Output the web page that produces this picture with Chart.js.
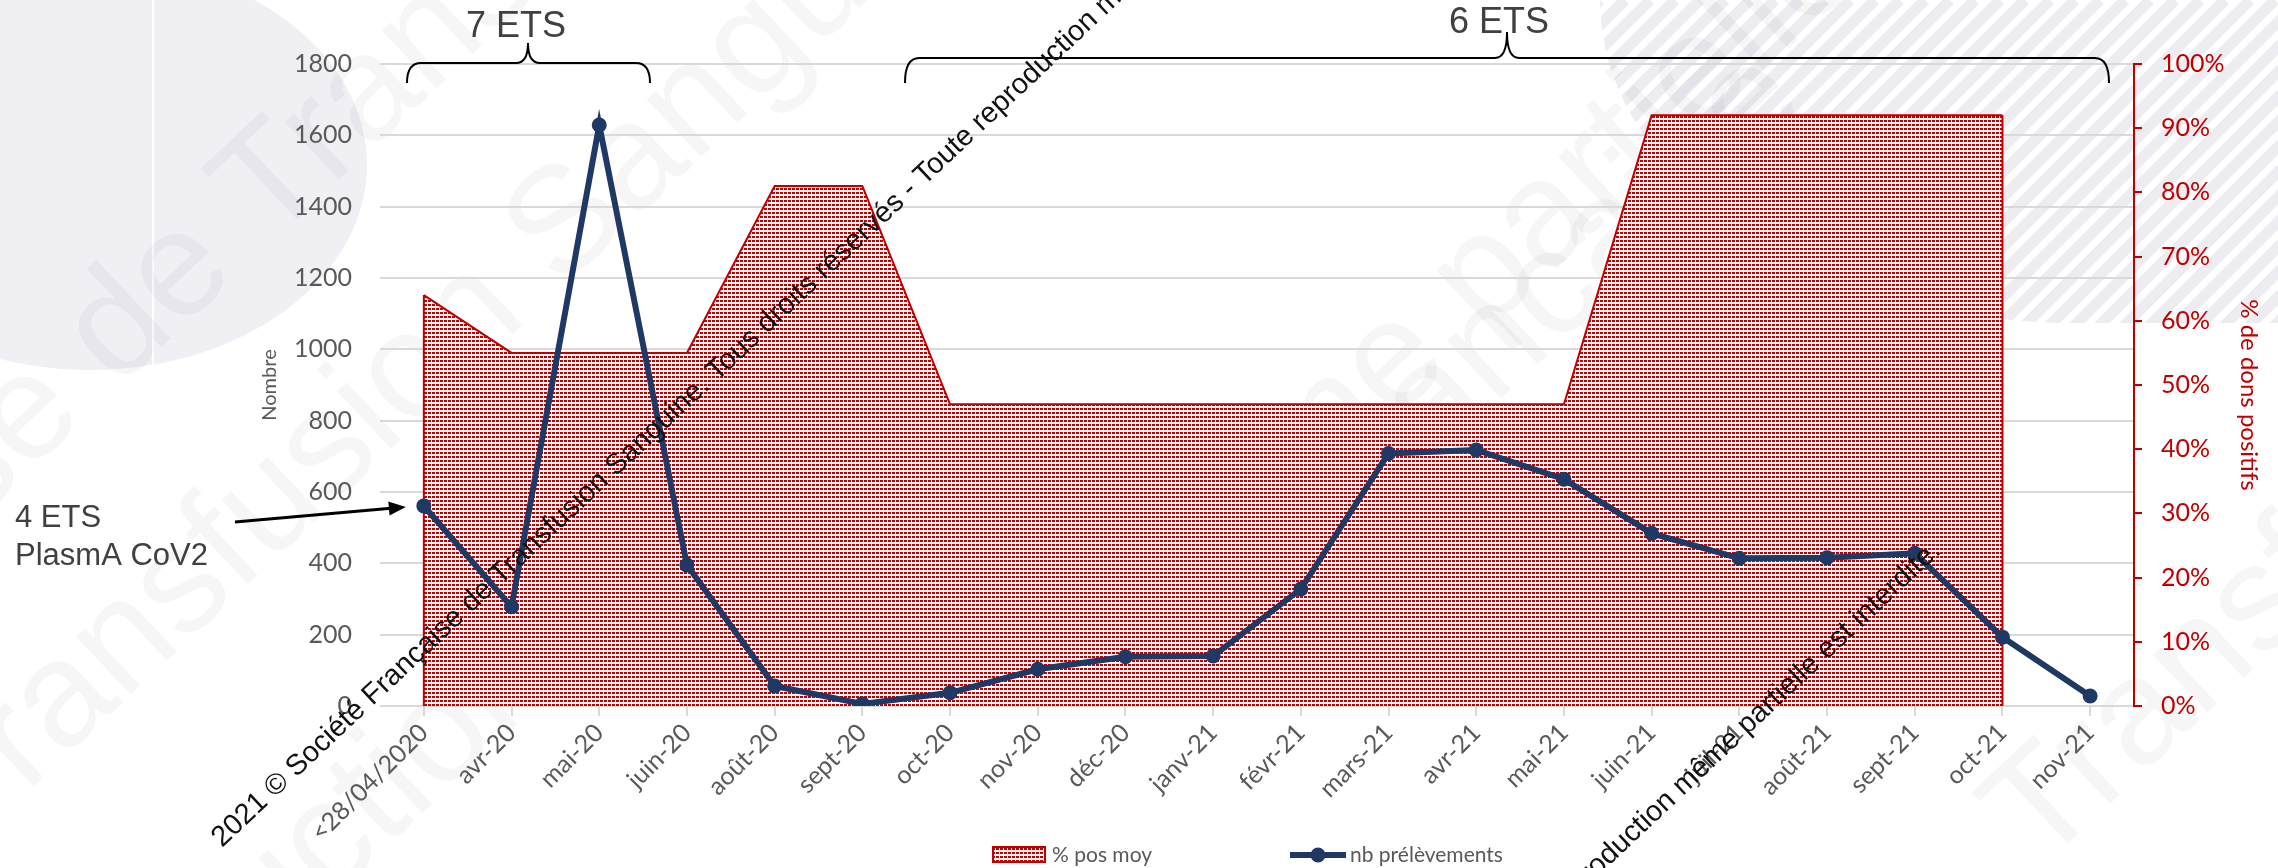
<!DOCTYPE html>
<html>
<head>
<meta charset="utf-8">
<script src="https://cdn.jsdelivr.net/npm/chart.js@4.4.0/dist/chart.umd.min.js"></script>
<style>
html, body { margin: 0; padding: 0; background: #fff; }
</style>
</head>
<body>
<canvas id="mycanvas" width="2278" height="868"></canvas>
<script>
// data
var categories = ['<28/04/2020', 'avr-20', 'mai-20', 'juin-20', 'août-20', 'sept-20', 'oct-20', 'nov-20', 'déc-20',
                  'janv-21', 'févr-21', 'mars-21', 'avr-21', 'mai-21', 'juin-21', 'juil-21', 'août-21', 'sept-21', 'oct-21', 'nov-21'];
var nbPrelevements = [561, 278, 1629, 395, 56, 6, 37, 103, 138, 140, 328, 708, 718, 636, 484, 414, 416, 428, 193, 28];
var posMoy = [0.64, 0.55, 0.55, 0.55, 0.81, 0.81, 0.47, 0.47, 0.47, 0.47, 0.47, 0.47, 0.47, 0.47, 0.92, 0.92, 0.92, 0.92, 0.92, null];
var leftMax = 1800, leftStep = 200;
var rightMax = 1, rightStep = 0.1;

var copyright = '2021 © Société Française de Transfusion Sanguine. Tous droits réservés - Toute reproduction même partielle est interdite.';

var RED = '#c00000', NAVY = '#1f3864', GREY = '#595959', GRID = '#d9d9d9';
var labelFont = { family: 'Lato', size: 25 };

// red dotted fill like the excel pattern
function dotPattern() {
    var c = document.createElement('canvas');
    c.width = 4; c.height = 4;
    var g = c.getContext('2d');
    g.fillStyle = '#fff';
    g.fillRect(0, 0, 4, 4);
    g.fillStyle = RED;
    g.fillRect(0, 0, 3, 2);
    return g.createPattern(c, 'repeat');
}
var pattern = dotPattern();

function brace(ctx, x1, x2, yTop, yBot, xm, yTip) {
    ctx.beginPath();
    ctx.moveTo(x1, yBot);
    ctx.quadraticCurveTo(x1, yTop, x1 + 14, yTop);
    ctx.lineTo(xm - 12, yTop);
    ctx.quadraticCurveTo(xm, yTop, xm, yTip);
    ctx.quadraticCurveTo(xm, yTop, xm + 12, yTop);
    ctx.lineTo(x2 - 14, yTop);
    ctx.quadraticCurveTo(x2, yTop, x2, yBot);
    ctx.stroke();
}

var ANG = -43.3 * Math.PI / 180;

// faint big watermark pieces: text, prefix, point where the prefix ends
var faint = [
    ['Société Française de Transfusion Sanguine', 'Société Française de ', 269, 246],
    ['Transfusion Sanguine', 'Transfusion ', 560, 290],
    ['Toute reproduction', 'Toute reprodu', 330, 900],
    ['même partielle', '', 1150, 650],
    ['Française', '', 1330, 560],
    ['Transfusion', '', 2040, 870]
];

var decor = {
    id: 'decor',
    beforeDraw: function(chart) {
        var ctx = chart.ctx;
        ctx.save();
        ctx.fillStyle = '#fff';
        ctx.fillRect(0, 0, chart.width, chart.height);
        // grey disc top left
        ctx.fillStyle = '#efeff4';
        ctx.beginPath();
        ctx.ellipse(90, 165, 277, 205, 0, 0, Math.PI * 2);
        ctx.fill();
        ctx.strokeStyle = '#fff';
        ctx.lineWidth = 2;
        ctx.beginPath();
        ctx.moveTo(153, 0);
        ctx.lineTo(153, 366);
        ctx.stroke();
        // striped corner top right
        ctx.save();
        ctx.beginPath();
        ctx.moveTo(1600, 0);
        ctx.ellipse(2075, 0, 475, 323, 0, Math.PI, Math.PI / 2, true);
        ctx.lineTo(2278, 323);
        ctx.lineTo(2278, 0);
        ctx.closePath();
        ctx.clip();
        ctx.strokeStyle = '#ececf1';
        ctx.lineWidth = 11;
        for (var k = 1100; k < 2700; k += 25) {
            ctx.beginPath();
            ctx.moveTo(k, 400);
            ctx.lineTo(k + 400, 0);
            ctx.stroke();
        }
        ctx.restore();
        // faint watermark
        ctx.fillStyle = 'rgba(40,40,70,0.042)';
        ctx.font = '150px "Liberation Sans"';
        ctx.textBaseline = 'alphabetic';
        ctx.textAlign = 'left';
        faint.forEach(function(f) {
            var w = ctx.measureText(f[1]).width;
            ctx.save();
            ctx.translate(f[2], f[3]);
            ctx.rotate(ANG);
            ctx.fillText(f[0], -w, 0);
            ctx.restore();
        });
        ctx.restore();
    },
    afterDatasetDraw: function(chart, args) {
        if (args.index !== 1) return;
        // excel closes the area outline on its sides
        var ctx = chart.ctx;
        var pts = args.meta.data;
        var base = chart.scales.y1.getPixelForValue(0);
        var first = null, last = null;
        for (var i = 0; i < pts.length; i++) {
            if (posMoy[i] === null) continue;
            if (first === null) first = pts[i];
            last = pts[i];
        }
        ctx.save();
        ctx.strokeStyle = RED;
        ctx.lineWidth = 2;
        ctx.beginPath();
        ctx.moveTo(first.x, first.y);
        ctx.lineTo(first.x, base);
        ctx.moveTo(last.x, last.y);
        ctx.lineTo(last.x, base);
        ctx.stroke();
        ctx.restore();
    },
    afterDraw: function(chart) {
        var ctx = chart.ctx;
        var area = chart.chartArea;
        var midY = (area.top + area.bottom) / 2;
        ctx.save();

        // axis titles
        ctx.textAlign = 'center';
        ctx.textBaseline = 'middle';
        ctx.fillStyle = GREY;
        ctx.font = '20px Lato';
        ctx.save();
        ctx.translate(270, midY);
        ctx.rotate(-Math.PI / 2);
        ctx.fillText('Nombre', 0, 0);
        ctx.restore();
        ctx.fillStyle = RED;
        ctx.font = '24px Lato';
        ctx.save();
        ctx.translate(2249, midY + 10);
        ctx.rotate(Math.PI / 2);
        ctx.fillText('% de dons positifs', 0, 0);
        ctx.restore();

        // legend
        var ds = chart.data.datasets;
        ctx.fillStyle = pattern;
        ctx.fillRect(993, 847, 52, 15);
        ctx.strokeStyle = RED;
        ctx.lineWidth = 2;
        ctx.strokeRect(993, 847, 52, 15);
        ctx.fillStyle = GREY;
        ctx.font = '21px Lato';
        ctx.textAlign = 'left';
        ctx.fillText(ds[1].label, 1052, 855);
        ctx.strokeStyle = NAVY;
        ctx.lineWidth = 6;
        ctx.beginPath();
        ctx.moveTo(1290, 855);
        ctx.lineTo(1346, 855);
        ctx.stroke();
        ctx.fillStyle = NAVY;
        ctx.beginPath();
        ctx.arc(1318, 855, 7.5, 0, Math.PI * 2);
        ctx.fill();
        ctx.fillStyle = GREY;
        ctx.fillText(ds[0].label, 1350, 855);

        // braces and ETS notes
        ctx.strokeStyle = '#000';
        ctx.lineWidth = 2;
        brace(ctx, 407, 650, 63, 83, 528, 43);
        brace(ctx, 905, 2109, 58, 83, 1507, 32);
        ctx.fillStyle = '#404040';
        ctx.textBaseline = 'alphabetic';
        ctx.textAlign = 'center';
        ctx.font = '36px "Liberation Sans"';
        ctx.fillText('7 ETS', 516, 37);
        ctx.fillText('6 ETS', 1499, 33);
        ctx.textAlign = 'left';
        ctx.font = '31px "Liberation Sans"';
        ctx.fillText('4 ETS', 15, 527);
        ctx.fillText('PlasmA CoV2', 15, 565);

        // arrow to first point
        var p0 = chart.getDatasetMeta(0).data[0];
        var ax = p0.x - 18, ay = p0.y + 1;
        var sx = 235, sy = 522;
        var a = Math.atan2(ay - sy, ax - sx);
        ctx.strokeStyle = '#000';
        ctx.lineWidth = 3;
        ctx.beginPath();
        ctx.moveTo(sx, sy);
        ctx.lineTo(ax - 12 * Math.cos(a), ay - 12 * Math.sin(a));
        ctx.stroke();
        ctx.fillStyle = '#000';
        ctx.beginPath();
        ctx.moveTo(ax, ay);
        ctx.lineTo(ax - 17 * Math.cos(a) + 7 * Math.sin(a), ay - 17 * Math.sin(a) - 7 * Math.cos(a));
        ctx.lineTo(ax - 17 * Math.cos(a) - 7 * Math.sin(a), ay - 17 * Math.sin(a) + 7 * Math.cos(a));
        ctx.closePath();
        ctx.fill();

        // copyright watermark, twice
        ctx.fillStyle = '#111';
        ctx.font = '29px "Liberation Sans"';
        ctx.save();
        ctx.translate(222, 848);
        ctx.rotate(ANG);
        ctx.textAlign = 'left';
        ctx.fillText(copyright, 0, 0);
        ctx.restore();
        ctx.save();
        ctx.translate(1942, 552);
        ctx.rotate(ANG);
        ctx.textAlign = 'right';
        ctx.fillText(copyright, 0, 0);
        ctx.restore();

        ctx.restore();
    }
};

var ctx = document.getElementById('mycanvas');
var chart = new Chart(ctx, {
    type: 'line',
    data: {
        labels: categories,
        datasets: [
            {
                label: 'nb prélèvements',
                data: nbPrelevements,
                yAxisID: 'y',
                borderColor: NAVY,
                backgroundColor: NAVY,
                borderWidth: 6,
                pointRadius: 7.5,
                pointBorderWidth: 0,
                pointBackgroundColor: NAVY,
                tension: 0,
                fill: false
            },
            {
                label: '% pos moy',
                data: posMoy,
                yAxisID: 'y1',
                borderColor: RED,
                borderWidth: 2,
                backgroundColor: pattern,
                fill: 'origin',
                pointRadius: 0,
                tension: 0
            }
        ]
    },
    options: {
        responsive: false,
        animation: false,
        devicePixelRatio: 1,
        layout: { padding: { top: 64, left: 0, right: 0, bottom: 0 } },
        plugins: {
            legend: { display: false },
            tooltip: { enabled: false }
        },
        scales: {
            x: {
                offset: true,
                grid: { drawOnChartArea: false, drawTicks: true, tickLength: 10, color: GRID, lineWidth: 2 },
                border: { display: false },
                ticks: { autoSkip: false, maxRotation: 45, minRotation: 45, color: GREY, font: labelFont, padding: 2 },
                afterFit: function(s) { s.height = 162; }
            },
            y: {
                position: 'left',
                min: 0,
                max: leftMax,
                ticks: {
                    stepSize: leftStep,
                    color: GREY,
                    font: labelFont,
                    padding: 28,
                    callback: function(v) { return String(v); }
                },
                grid: { color: GRID, lineWidth: 2, drawTicks: false },
                border: { display: false },
                afterFit: function(s) { s.width = 380; }
            },
            y1: {
                position: 'right',
                min: 0,
                max: rightMax,
                ticks: {
                    stepSize: rightStep,
                    color: RED,
                    font: labelFont,
                    padding: 19,
                    callback: function(v) { return Math.round(v * 100) + '%'; }
                },
                grid: { drawOnChartArea: false, drawTicks: true, tickLength: 8, color: RED, lineWidth: 2 },
                border: { display: true, color: RED, width: 2 },
                afterFit: function(s) { s.width = 144; }
            }
        }
    },
    plugins: [decor]
});
</script>
</body>
</html>
